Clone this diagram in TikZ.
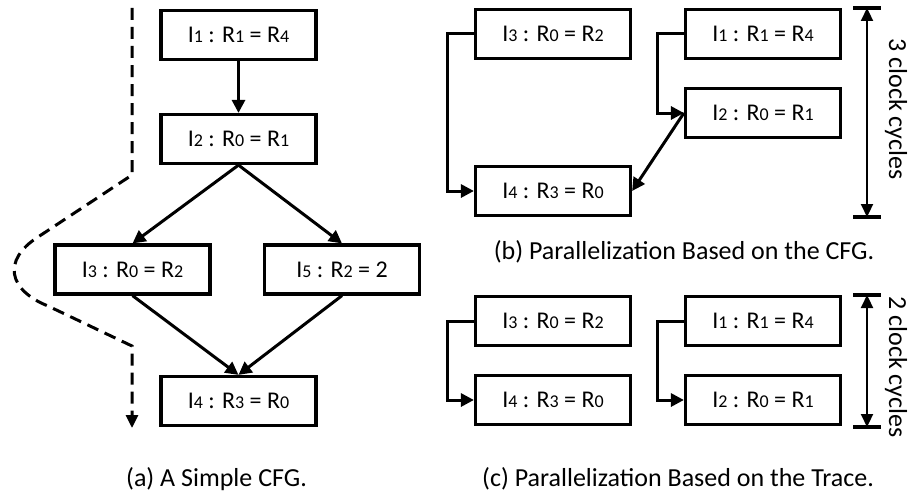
\documentclass[tikz,border=0pt]{standalone}
\usepackage{fontspec}
\setmainfont{Carlito}
\usetikzlibrary{arrows.meta}
% small digit index used in the instruction labels
\newcommand\dg[1]{{\fontsize{18}{18}\selectfont #1}}
\begin{document}
\begin{tikzpicture}[x=1pt,y=-1pt,
  tip/.style={},
  instr/.style={draw, line width=3.2pt, minimum width=155pt, minimum height=49pt,
    inner sep=0pt, font=\fontsize{24}{24}\selectfont},
  arr/.style={line width=3pt, -{Triangle[length=13pt,width=13pt]}},
  dblarr/.style={line width=2.2pt, {Triangle[length=13pt,width=12pt]}-{Triangle[length=13pt,width=12pt]}},
  capline/.style={line width=3.4pt},
  trace/.style={line width=3pt, dash pattern=on 12pt off 7pt, -{Triangle[length=13pt,width=12pt]}},
  caption/.style={font=\fontsize{26}{26}\selectfont},
  cyc/.style={font=\fontsize{26}{26}\selectfont, rotate=-90}]
\useasboundingbox (0,0) rectangle (912,495);

% (a) control flow graph
\node[instr] (a1) at (238.5,35)  {I\dg{1} : R\dg{1} = R\dg{4}};
\node[instr] (a2) at (238.5,139) {I\dg{2} : R\dg{0} = R\dg{1}};
\node[instr] (a3) at (132.5,269.5) {I\dg{3} : R\dg{0} = R\dg{2}};
\node[instr] (a5) at (342,269.5) {I\dg{5} : R\dg{2} = 2};
\node[instr] (a4) at (238.5,401) {I\dg{4} : R\dg{3} = R\dg{0}};
\draw[arr] (a1) -- (a2);
\draw[arr] (a2.south) -- (a3.north);
\draw[arr] (a2.south) -- (a5.north);
\draw[arr] (a3.south) -- (a4.north);
\draw[arr] (a5.south) -- (a4.north);

% executed trace through the graph
\coordinate (ttop) at (132,8);
\coordinate (tend) at (132,428);
\draw[trace] (ttop) -- (132,175) -- (38,237)
  .. controls (2,260) and (8,290) .. (48,306) -- (132,346) -- (tend);

\node[caption] (capa) at (216.5,479) {(a) A Simple CFG.};

% (b) schedule derived from the CFG
\node[instr] (b3) at (553,34)  {I\dg{3} : R\dg{0} = R\dg{2}};
\node[instr] (b1) at (763,34)  {I\dg{1} : R\dg{1} = R\dg{4}};
\node[instr] (b2) at (763,113) {I\dg{2} : R\dg{0} = R\dg{1}};
\node[instr] (b4) at (553,191) {I\dg{4} : R\dg{3} = R\dg{0}};
\draw[arr] (b3.west) -- ++(-26,0) |- (b4.west);
\draw[arr] (b1.west) -- ++(-26,0) |- (b2.west);
\draw[arr] (b2.west) -- (b4.east);

\coordinate (bt) at (867,8);
\coordinate (bb) at (867,217);
\draw[capline] ([xshift=-14pt]bt) -- ([xshift=14pt]bt);
\draw[capline] ([xshift=-14pt]bb) -- ([xshift=14pt]bb);
\draw[dblarr] (bt) -- (bb);
\node[cyc] (bl) at (896,109) {3 clock cycles};

\node[caption] (capb) at (684,252) {(b) Parallelization Based on the CFG.};

% (c) schedule derived from the trace
\node[instr] (c3) at (553,321) {I\dg{3} : R\dg{0} = R\dg{2}};
\node[instr] (c4) at (553,400) {I\dg{4} : R\dg{3} = R\dg{0}};
\node[instr] (c1) at (763,321) {I\dg{1} : R\dg{1} = R\dg{4}};
\node[instr] (c2) at (763,400) {I\dg{2} : R\dg{0} = R\dg{1}};
\draw[arr] (c3.west) -- ++(-26,0) |- (c4.west);
\draw[arr] (c1.west) -- ++(-26,0) |- (c2.west);

\coordinate (ct) at (867,295);
\coordinate (cb) at (867,427);
\draw[capline] ([xshift=-14pt]ct) -- ([xshift=14pt]ct);
\draw[capline] ([xshift=-14pt]cb) -- ([xshift=14pt]cb);
\draw[dblarr] (ct) -- (cb);
\node[cyc] (cl) at (896,367) {2 clock cycles};

\node[caption] (capc) at (678,479) {(c) Parallelization Based on the Trace.};
\end{tikzpicture}
\end{document}
